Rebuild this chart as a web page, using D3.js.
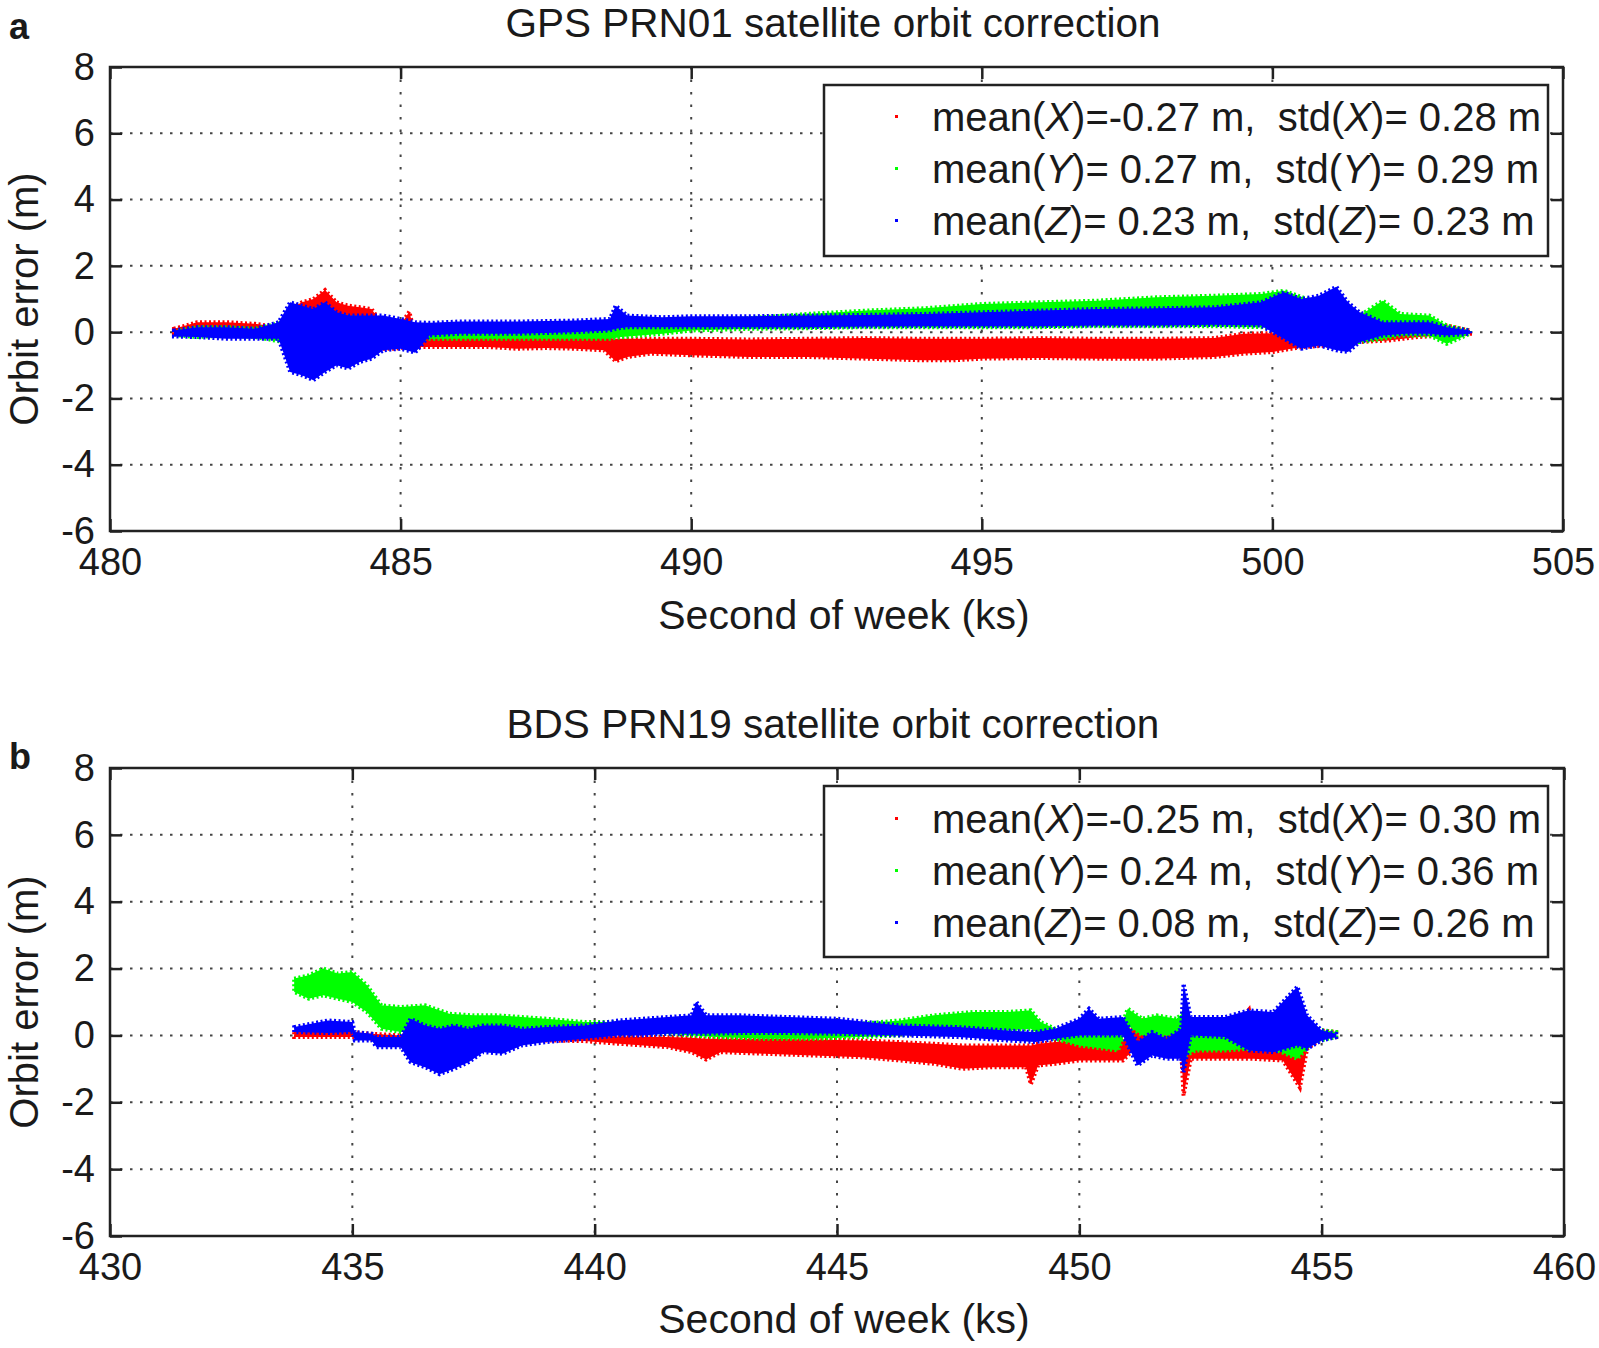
<!DOCTYPE html>
<html>
<head>
<meta charset="utf-8">
<script src="https://cdn.jsdelivr.net/npm/d3@7/dist/d3.min.js"></script>
<style>
  html, body { margin: 0; padding: 0; background: #fff; }
  svg { display: block; }
  text { font-family: "Liberation Sans", Arial, Helvetica, sans-serif; fill: #1a1a1a; }
</style>
</head>
<body>
<svg id="chart" width="1599" height="1348"></svg>
<script>
// ---------------- DATA ----------------
// Each series: [second of week (ks), lower edge of point cloud (m), upper edge (m)]
const titles = ["GPS PRN01 satellite orbit correction", "BDS PRN19 satellite orbit correction"];
const panelLetters = ["a", "b"];
const xTicksA = [480, 485, 490, 495, 500, 505];
const xTicksB = [430, 435, 440, 445, 450, 455, 460];
const yTicks = [-6, -4, -2, 0, 2, 4, 6, 8];
const seriesNames = ["X", "Y", "Z"];
const meansA = ["-0.27", " 0.27", " 0.23"];
const stdsA = ["0.28", "0.29", "0.23"];
const meansB = ["-0.25", " 0.24", " 0.08"];
const stdsB = ["0.30", "0.36", "0.26"];

const gpsX = [
  [481.1,-0.05,0.10],[481.5,-0.05,0.30],[482.0,0.00,0.30],[482.5,-0.05,0.25],[482.9,-0.10,0.15],
  [483.1,-0.30,0.70],[483.3,-0.20,0.90],[483.5,-0.30,1.00],[483.7,-0.20,1.27],[483.9,-0.40,0.90],
  [484.1,-0.40,0.80],[484.3,-0.40,0.75],[484.5,-0.45,0.70],[484.7,-0.50,0.20],[484.9,-0.50,-0.05],
  [485.15,-0.45,0.62],[485.25,-0.45,-0.10],[485.4,-0.45,-0.10],[486.0,-0.45,-0.10],[486.5,-0.45,-0.10],
  [487.0,-0.50,-0.10],[487.5,-0.48,-0.12],[488.0,-0.50,-0.12],[488.5,-0.55,-0.15],[488.7,-0.88,-0.20],
  [488.9,-0.75,-0.20],[489.3,-0.65,-0.20],[490.0,-0.70,-0.20],[491.0,-0.75,-0.22],[492.0,-0.75,-0.20],
  [493.0,-0.80,-0.18],[494.0,-0.85,-0.20],[494.5,-0.85,-0.20],[495.0,-0.80,-0.20],[496.0,-0.78,-0.18],
  [497.0,-0.80,-0.20],[497.5,-0.80,-0.20],[498.0,-0.80,-0.20],[499.0,-0.75,-0.18],[499.5,-0.65,-0.05],
  [500.0,-0.60,-0.03],[500.5,-0.45,0.05],[501.0,-0.40,0.07],[501.5,-0.30,0.12],[502.0,-0.25,0.12],
  [502.5,-0.15,0.15],[503.0,-0.10,0.20],[503.4,-0.05,0.05]
];
const gpsY = [
  [481.2,-0.10,0.05],[481.5,-0.15,0.15],[482.0,-0.10,0.15],[482.5,-0.15,0.10],[483.0,-0.30,0.30],
  [483.5,-0.40,0.60],[484.0,-0.50,0.50],[484.5,-0.40,0.40],[484.8,-0.20,0.30],[485.3,-0.20,0.05],
  [486.0,-0.20,0.05],[487.0,-0.20,0.05],[488.0,-0.20,0.10],[488.6,-0.20,0.10],[488.8,-0.15,0.15],
  [489.5,-0.05,0.25],[490.0,0.05,0.35],[491.0,0.10,0.42],[492.0,0.12,0.55],[493.0,0.15,0.65],
  [494.0,0.15,0.72],[495.0,0.15,0.85],[496.0,0.15,0.90],[497.0,0.18,0.95],[498.0,0.18,1.05],
  [499.0,0.18,1.10],[499.8,0.15,1.15],[500.2,0.10,1.25],[500.6,0.00,1.00],[501.0,-0.20,0.60],
  [501.5,-0.30,0.50],[501.9,-0.20,0.95],[502.2,-0.10,0.55],[502.7,-0.10,0.50],[503.0,-0.35,0.20],
  [503.4,-0.05,0.05]
];
const gpsZ = [
  [481.1,-0.13,0.05],[481.5,-0.15,0.15],[482.0,-0.20,0.15],[482.5,-0.20,0.10],[482.9,-0.20,0.30],
  [483.1,-1.20,0.90],[483.3,-1.30,0.80],[483.5,-1.45,0.70],[483.7,-1.20,0.90],[483.9,-1.00,0.60],
  [484.1,-1.10,0.50],[484.3,-0.90,0.50],[484.5,-0.80,0.50],[484.7,-0.55,0.50],[485.0,-0.50,0.40],
  [485.25,-0.62,0.30],[485.5,-0.10,0.28],[486.0,-0.05,0.32],[487.0,-0.05,0.32],[488.0,0.00,0.35],
  [488.6,0.05,0.40],[488.7,0.10,0.80],[488.9,0.15,0.50],[489.5,0.15,0.45],[490.0,0.15,0.48],
  [491.0,0.15,0.48],[492.0,0.15,0.50],[493.0,0.17,0.52],[494.0,0.18,0.55],[495.0,0.18,0.60],
  [496.0,0.18,0.65],[497.0,0.20,0.70],[498.0,0.20,0.72],[499.0,0.22,0.75],[499.8,0.20,0.90],
  [500.2,-0.20,1.20],[500.5,-0.50,1.00],[500.8,-0.40,1.10],[501.1,-0.55,1.37],[501.3,-0.60,0.90],
  [501.5,-0.30,0.60],[501.9,-0.10,0.30],[502.3,-0.05,0.30],[502.7,-0.05,0.30],[503.0,-0.10,0.15],
  [503.4,-0.05,0.05]
];

const bdsX = [
  [433.8,-0.05,0.10],[434.5,-0.05,0.12],[435.0,-0.05,0.10],[435.4,-0.10,0.05],[436.0,-0.10,0.00],
  [436.5,-0.20,0.00],[437.0,-0.10,0.00],[438.0,-0.10,0.00],[439.0,-0.15,0.00],[439.8,-0.17,0.00],
  [440.5,-0.25,-0.03],[441.0,-0.30,-0.05],[441.5,-0.35,-0.05],[442.0,-0.50,-0.07],[442.3,-0.72,-0.10],
  [442.6,-0.50,-0.10],[443.5,-0.55,-0.10],[444.5,-0.60,-0.12],[445.5,-0.65,-0.15],[446.3,-0.75,-0.20],
  [447.0,-0.85,-0.25],[447.6,-1.00,-0.30],[448.2,-0.95,-0.30],[448.9,-0.95,-0.30],[449.0,-1.46,-0.30],
  [449.15,-0.90,-0.25],[449.5,-0.85,-0.20],[450.0,-0.75,-0.17],[450.9,-0.75,-0.15],[451.2,-0.30,0.50],
  [451.5,-0.20,0.35],[451.9,-0.25,0.25],[452.1,-0.40,0.10],[452.15,-1.80,0.10],[452.3,-0.70,-0.10],
  [453.0,-0.70,-0.15],[453.5,-0.70,0.77],[453.6,-0.70,-0.05],[454.2,-0.75,0.10],[454.55,-1.56,0.20],
  [454.7,-0.40,0.15],[455.0,-0.10,0.15],[455.3,-0.05,0.10]
];
const bdsY = [
  [433.8,1.30,1.70],[434.1,1.10,1.80],[434.4,1.20,2.00],[434.7,1.10,1.85],[435.0,1.00,1.90],
  [435.3,0.70,1.50],[435.6,0.20,0.90],[436.0,0.10,0.85],[436.5,0.15,0.90],[437.0,0.20,0.65],
  [437.5,0.20,0.60],[438.0,0.20,0.60],[438.5,0.20,0.55],[439.0,0.20,0.50],[439.8,0.15,0.40],
  [440.5,0.10,0.40],[441.5,0.05,0.35],[442.5,-0.05,0.20],[443.5,-0.10,0.20],[444.5,-0.10,0.25],
  [445.5,-0.05,0.35],[446.3,0.00,0.45],[447.0,0.10,0.60],[447.8,0.15,0.70],[448.5,0.15,0.70],
  [449.0,0.20,0.75],[449.2,0.00,0.40],[449.5,-0.10,0.20],[450.0,-0.30,0.00],[450.8,-0.45,0.00],
  [451.0,0.30,0.80],[451.3,0.00,0.50],[451.6,0.00,0.60],[452.0,0.00,0.50],[452.2,-0.60,0.75],
  [452.4,-0.45,0.00],[453.0,-0.45,0.00],[453.5,-0.40,0.20],[454.0,-0.40,0.30],[454.5,-0.70,0.40],
  [454.8,-0.20,0.20],[455.3,-0.05,0.10]
];
const bdsZ = [
  [433.8,0.10,0.25],[434.5,0.07,0.45],[435.0,0.10,0.40],[435.05,-0.15,0.10],[435.4,-0.15,0.05],
  [435.5,-0.35,-0.05],[436.0,-0.35,-0.05],[436.2,-0.80,0.50],[436.5,-0.95,0.30],[436.8,-1.16,0.20],
  [437.1,-1.00,0.30],[437.4,-0.80,0.20],[437.7,-0.50,0.30],[438.1,-0.55,0.30],[438.5,-0.30,0.20],
  [439.0,-0.20,0.25],[439.8,-0.10,0.30],[440.5,0.00,0.45],[441.0,0.00,0.50],[441.5,0.05,0.55],
  [442.0,0.05,0.60],[442.1,0.05,1.00],[442.3,0.05,0.60],[443.0,0.07,0.60],[444.0,0.07,0.55],
  [445.0,0.05,0.50],[446.3,0.00,0.30],[447.5,-0.05,0.25],[448.5,-0.15,0.15],[449.1,-0.20,0.10],
  [449.5,-0.10,0.20],[450.0,0.00,0.50],[450.2,0.00,0.80],[450.4,0.00,0.50],[450.9,0.00,0.55],
  [451.2,-0.90,-0.20],[451.5,-0.60,0.10],[451.8,-0.70,-0.10],[452.1,-0.70,0.20],[452.15,-1.10,1.55],
  [452.3,0.00,0.55],[453.0,-0.05,0.55],[453.5,-0.45,0.75],[454.0,-0.50,0.70],[454.5,-0.30,1.46],
  [454.7,-0.40,0.60],[455.0,-0.15,0.15],[455.3,-0.05,0.05]
];

// ---------------- LAYOUT ----------------
const colors = ["#ff0000", "#00ff00", "#0000ff"];
const panels = [
  { top: 67, bottom: 531, left: 110, right: 1563, xTicks: xTicksA, series: [gpsX, gpsY, gpsZ],
    means: meansA, stds: stdsA, titleY: 37, xLabelY: 629, letterY: 39,
    legend: { x: 824, y: 85, w: 724, h: 171, rows: [131, 183, 235] } },
  { top: 768, bottom: 1236, left: 110, right: 1564, xTicks: xTicksB, series: [bdsX, bdsY, bdsZ],
    means: meansB, stds: stdsB, titleY: 738, xLabelY: 1333, letterY: 769,
    legend: { x: 824, y: 786, w: 724, h: 171, rows: [833, 885, 937] } }
];

const svg = d3.select("#chart");
const frameColor = "#222";
const gridColor = "#444";
const fmt = d => String(d);   // plain hyphen-minus like the original

panels.forEach((p, pi) => {
  const xs = p.xTicks;
  const x = d3.scaleLinear().domain([xs[0], xs[xs.length - 1]]).range([p.left, p.right]);
  const y = d3.scaleLinear().domain([yTicks[0], yTicks[yTicks.length - 1]]).range([p.bottom, p.top]);
  const g = svg.append("g");

  // grid
  g.append("g").selectAll("line").data(yTicks.slice(1, -1)).join("line")
    .attr("x1", p.left).attr("x2", p.right)
    .attr("y1", d => y(d)).attr("y2", d => y(d))
    .attr("stroke", gridColor).attr("stroke-width", 2).attr("stroke-dasharray", "2.5,7.5");
  g.append("g").selectAll("line").data(xs.slice(1, -1)).join("line")
    .attr("y1", p.top).attr("y2", p.bottom)
    .attr("x1", d => x(d)).attr("x2", d => x(d))
    .attr("stroke", gridColor).attr("stroke-width", 2).attr("stroke-dasharray", "2.5,10");

  // data clouds (dense scatter drawn as its envelope, with a speckled edge)
  const area = d3.area()
    .x(d => x(d[0])).y0(d => y(d[1])).y1(d => y(d[2]))
    .curve(d3.curveLinear);
  p.series.forEach((s, si) => {
    g.append("path").datum(s).attr("d", area)
      .attr("fill", colors[si]).attr("stroke", "none");
    g.append("path").datum(s).attr("d", area)
      .attr("fill", "none").attr("stroke", colors[si])
      .attr("stroke-width", 4).attr("stroke-dasharray", "2,2.5");
  });

  // axes (MATLAB-like inward ticks on all sides)
  const fs = 38;
  const ax = g.append("g").attr("transform", `translate(0,${p.bottom})`)
    .call(d3.axisBottom(x).tickValues(xs).tickSize(-12).tickPadding(17).tickFormat(fmt));
  const ay = g.append("g").attr("transform", `translate(${p.left},0)`)
    .call(d3.axisLeft(y).tickValues(yTicks).tickSize(-12).tickPadding(15).tickFormat(fmt));
  const at = g.append("g").attr("transform", `translate(0,${p.top})`)
    .call(d3.axisTop(x).tickValues(xs).tickSize(-12).tickFormat(""));
  const ar = g.append("g").attr("transform", `translate(${p.right},0)`)
    .call(d3.axisRight(y).tickValues(yTicks).tickSize(-12).tickFormat(""));
  [ax, ay, at, ar].forEach(a => {
    a.select(".domain").remove();
    a.selectAll(".tick line").attr("stroke", frameColor).attr("stroke-width", 2.5);
    a.selectAll("text").style("font-size", fs + "px")
      .style("font-family", '"Liberation Sans", Arial, sans-serif').attr("fill", "#1a1a1a");
  });

  // frame
  g.append("rect").attr("x", p.left).attr("y", p.top)
    .attr("width", p.right - p.left).attr("height", p.bottom - p.top)
    .attr("fill", "none").attr("stroke", frameColor).attr("stroke-width", 2.5);

  // title
  g.append("text").attr("x", 833).attr("y", p.titleY).attr("text-anchor", "middle")
    .style("font-size", "40.5px").text(titles[pi]);
  // panel letter
  g.append("text").attr("x", 9).attr("y", p.letterY)
    .style("font-size", "36px").style("font-weight", "bold").text(panelLetters[pi]);
  // x label
  g.append("text").attr("x", 844).attr("y", p.xLabelY).attr("text-anchor", "middle")
    .style("font-size", "41px").text("Second of week (ks)");
  // y label
  g.append("text")
    .attr("transform", `translate(38,${(p.top + p.bottom) / 2}) rotate(-90)`)
    .attr("text-anchor", "middle").style("font-size", "40px").text("Orbit error (m)");

  // legend
  const L = p.legend;
  g.append("rect").attr("x", L.x).attr("y", L.y).attr("width", L.w).attr("height", L.h)
    .attr("fill", "#fff").attr("stroke", frameColor).attr("stroke-width", 2.5);
  seriesNames.forEach((nm, i) => {
    g.append("rect").attr("x", 895).attr("y", L.rows[i] - 16).attr("width", 3).attr("height", 3)
      .attr("fill", colors[i]);
    const t = g.append("text").attr("x", 932).attr("y", L.rows[i])
      .style("font-size", "40px").attr("xml:space", "preserve");
    t.append("tspan").text("mean(");
    t.append("tspan").style("font-style", "italic").text(nm);
    t.append("tspan").text(")=" + p.means[i] + " m,  std(");
    t.append("tspan").style("font-style", "italic").text(nm);
    t.append("tspan").text(")= " + p.stds[i] + " m");
  });
});
</script>
</body>
</html>
